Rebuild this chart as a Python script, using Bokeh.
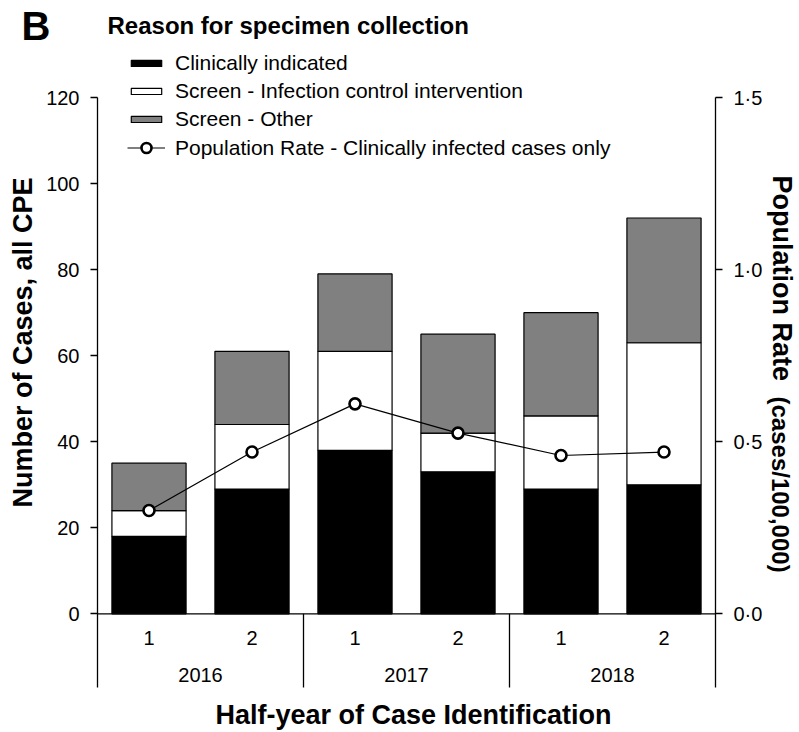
import math
from bokeh.plotting import figure
from bokeh.layouts import column, row
from bokeh.models import (Range1d, LinearAxis, FixedTicker, CustomJSTickFormatter,
                          Legend, LegendItem, Label, Span, ColumnDataSource)
from bokeh.core.properties import value
from bokeh.embed import file_html
from bokeh.resources import INLINE

# ---------------- data ----------------
years = ["2016", "2017", "2018"]
halves = ["1", "2"]
clinically_indicated = [18, 29, 38, 33, 29, 30]
screen_infection_control = [6, 15, 23, 9, 17, 33]
screen_other = [11, 17, 18, 23, 24, 29]
population_rate = [0.30, 0.47, 0.61, 0.525, 0.46, 0.47]
left_ticks = [0, 20, 40, 60, 80, 100, 120]
right_ticks = [0.0, 0.5, 1.0, 1.5]

# ---------------- layout constants ----------------
FONT = "Liberation Sans"
TOTAL_W = 799
HEAD_H = 50
BODY_H = 682
LEFT_W, RIGHT_W = 40, 34
MAIN_W = TOTAL_W - LEFT_W - RIGHT_W
Y0, Y1 = -27.59, 130.93         # main frame covers the full body height
AXIS_BOTTOM = -17.13            # axis lines / separators end here
RATE_SCALE = right_ticks[-1] / left_ticks[-1]
SUB_Y = -5.74
YEAR_Y = -14.34

n = len(clinically_indicated)
xs = [i + 0.5 for i in range(n)]
top1 = list(clinically_indicated)
top2 = [a + b for a, b in zip(top1, screen_infection_control)]
top3 = [a + b for a, b in zip(top2, screen_other)]

src = ColumnDataSource(dict(x=xs, b0=[0] * n, t1=top1, t2=top2, t3=top3,
                            rate=population_rate))


def blank(width, height):
    f = figure(width=width, height=height, output_backend="svg", toolbar_location=None,
               x_range=Range1d(0, 1), y_range=Range1d(0, 1),
               x_axis_location=None, y_axis_location=None,
               min_border_left=0, min_border_right=0, min_border_top=0, min_border_bottom=0)
    f.outline_line_color = None
    f.xgrid.visible = False
    f.ygrid.visible = False
    f.background_fill_color = "white"
    f.border_fill_color = "white"
    return f


def lab(fig, text, x, y, size, angle=0, align="left", baseline="alphabetic"):
    fig.add_layout(Label(x=x, y=y, x_units="screen", y_units="screen", text=text,
                         text_font=FONT, text_font_size=size, text_font_style="bold",
                         text_color="black", angle=angle, text_align=align,
                         text_baseline=baseline))


# ---------------- heading strip ----------------
head = blank(TOTAL_W, HEAD_H)
lab(head, "B", 21, 25, "40px")
lab(head, "Reason for specimen collection", 107, 25, "24px")

# ---------------- left / right title strips ----------------
left = blank(LEFT_W, BODY_H)
lab(left, "Number of Cases, all CPE", 22, 390, "27px", angle=math.pi / 2,
    align="center", baseline="middle")

right = blank(RIGHT_W, BODY_H)
lab(right, "Population Rate", 16, 557, "27px", angle=-math.pi / 2)
lab(right, "(cases/100,000)", 15, 336, "24px", angle=-math.pi / 2)

# ---------------- main chart ----------------
p = figure(width=MAIN_W, height=BODY_H, output_backend="svg", toolbar_location=None,
           x_range=Range1d(0, n), y_range=Range1d(Y0, Y1),
           x_axis_location=None, y_axis_location=None,
           min_border_left=57, min_border_right=48, min_border_top=0, min_border_bottom=0)
p.outline_line_color = None
p.xgrid.visible = False
p.ygrid.visible = False
p.background_fill_color = "white"
p.border_fill_color = "white"
p.extra_y_ranges = {"rate": Range1d(Y0 * RATE_SCALE, Y1 * RATE_SCALE)}


def style_axis(ax):
    ax.major_tick_in = 0
    ax.major_tick_out = 7
    ax.minor_tick_line_color = None
    ax.axis_line_width = 1.3
    ax.major_tick_line_width = 1.3
    ax.axis_line_color = "black"
    ax.major_tick_line_color = "black"
    ax.major_label_text_font = FONT
    ax.major_label_text_font_size = "20px"
    ax.major_label_text_color = "black"


lax = LinearAxis(bounds=(AXIS_BOTTOM, left_ticks[-1]), ticker=FixedTicker(ticks=left_ticks))
style_axis(lax)
lax.major_label_standoff = 11
p.add_layout(lax, "left")

rax = LinearAxis(y_range_name="rate", bounds=(AXIS_BOTTOM * RATE_SCALE, right_ticks[-1]),
                 ticker=FixedTicker(ticks=right_ticks),
                 formatter=CustomJSTickFormatter(code="return tick.toFixed(1).replace('.', '\u00b7');"))
style_axis(rax)
rax.major_label_standoff = 11
p.add_layout(rax, "right")

# stacked bars
r_clin = p.vbar(x="x", bottom="b0", top="t1", width=0.72, fill_color="black",
                line_color="black", line_width=1.2, source=src)
r_ic = p.vbar(x="x", bottom="t1", top="t2", width=0.72, fill_color="white",
              line_color="black", line_width=1.2, source=src)
r_oth = p.vbar(x="x", bottom="t2", top="t3", width=0.72, fill_color="#808080",
               line_color="black", line_width=1.2, source=src)

# rate line
r_line = p.line("x", "rate", y_range_name="rate", line_color="black", line_width=1.2, source=src)
r_pts = p.scatter("x", "rate", y_range_name="rate", marker="circle", size=11,
                  fill_color="white", line_color="black", line_width=2.6, source=src)

# x baseline and group separators
p.add_layout(Span(location=0, dimension="width", line_color="black", line_width=1.3))
seps = [len(halves) * k for k in range(1, len(years))]
p.segment(x0=seps, y0=[0] * len(seps), x1=seps, y1=[AXIS_BOTTOM] * len(seps),
          line_color="black", line_width=1.3)

# category labels
p.text(x=xs, y=[SUB_Y] * n, text=[h for _ in years for h in halves],
       text_font=value(FONT), text_font_size="20px", text_color="black",
       text_align="center", text_baseline="middle")
p.text(x=[len(halves) * k + len(halves) / 2 for k in range(len(years))], y=[YEAR_Y] * len(years),
       text=years, text_font=value(FONT), text_font_size="20px", text_color="black",
       text_align="center", text_baseline="middle")

# legends
leg_common = dict(padding=0, margin=0, border_line_color=None, background_fill_alpha=0,
                  label_text_font=FONT, label_text_font_size="21px", label_text_color="black",
                  glyph_width=38, label_standoff=10)
leg1 = Legend(items=[LegendItem(label="Clinically indicated", renderers=[r_clin]),
                     LegendItem(label="Screen - Infection control intervention", renderers=[r_ic]),
                     LegendItem(label="Screen - Other", renderers=[r_oth])],
              location=(30, 601), glyph_height=8, label_height=24, spacing=4, **leg_common)
leg2 = Legend(items=[LegendItem(label="Population Rate - Clinically infected cases only",
                                renderers=[r_line, r_pts])],
              location=(30, 572), glyph_height=25, label_height=25, spacing=0, **leg_common)
p.add_layout(leg1)
p.add_layout(leg2)

lab(p, "Half-year of Case Identification", 316, 18, "27px", align="center")

layout = column(head, row(left, p, right, spacing=0), spacing=0)
open("out.html", "w").write(file_html(layout, INLINE))
